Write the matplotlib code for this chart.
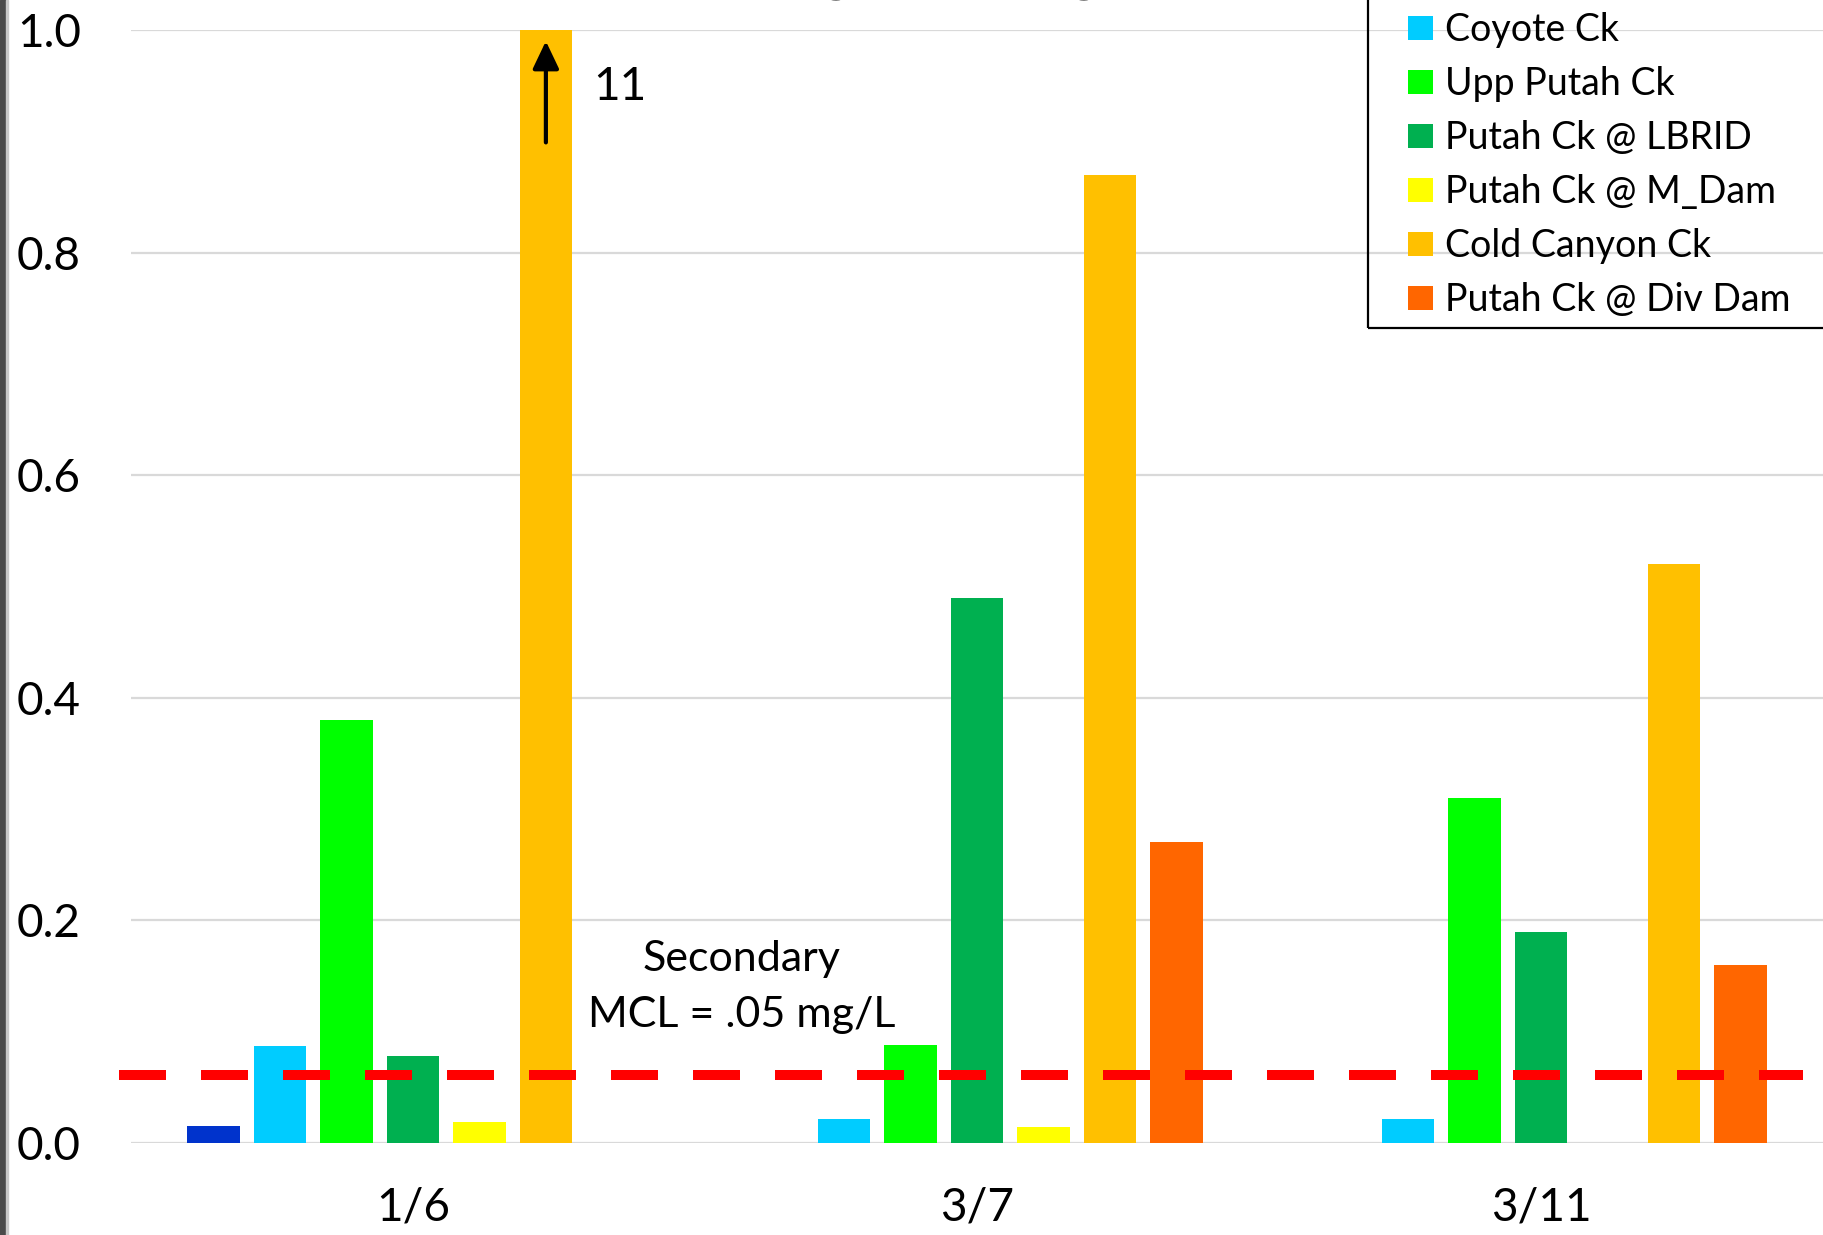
"""Manganese concentrations by site and sampling date (clustered bars)."""
import matplotlib
matplotlib.use('Agg')
import matplotlib.pyplot as plt
from matplotlib.patches import Rectangle
import numpy as np

plt.rcParams['font.family'] = ['Lato', 'DejaVu Sans']

dates = ['1/6', '3/7', '3/11']
sites = ['Big Canyon Ck', 'Coyote Ck', 'Upp Putah Ck', 'Putah Ck @ LBRID',
         'Putah Ck @ M_Dam', 'Cold Canyon Ck', 'Putah Ck @ Div Dam']
colors = ['#0033CC', '#00CCFF', '#00FF00', '#00B050', '#FFFF00', '#FFC000', '#FF6600']
nan = np.nan
big_canyon = [0.015, nan, nan]
coyote = [0.087, 0.022, 0.022]
upp_putah = [0.38, 0.088, 0.31]
lbrid = [0.078, 0.49, 0.19]
m_dam = [0.019, 0.014, nan]
cold_canyon = [11, 0.87, 0.52]
div_dam = [nan, 0.27, 0.16]
series = [big_canyon, coyote, upp_putah, lbrid, m_dam, cold_canyon, div_dam]
mcl = 0.061

W, H = 1824, 1235
fig = plt.figure(figsize=(W / 100, H / 100), dpi=100)
ax = fig.add_axes([131 / W, 92 / H, 1692 / W, 1113 / H])

x = np.arange(len(dates))
slot = 0.1178
bars = []
for i, (vals, name, c) in enumerate(zip(series, sites, colors)):
    bars.append(ax.bar(x + (i - 3) * slot, vals, width=0.093, color=c,
                       label=name, linewidth=0))

ax.set_xlim(-0.5, 2.5)
ax.set_ylim(0, 1.0)
ax.set_yticks(np.arange(0, 1.01, 0.2))
ax.yaxis.set_major_formatter(matplotlib.ticker.FormatStrFormatter('%.1f'))
ax.set_xticks(x)
ax.set_xticklabels(dates)
ax.tick_params(axis='y', length=0, pad=36, labelsize=33)
ax.tick_params(axis='x', length=0, pad=31, labelsize=33)
for s in ax.spines.values():
    s.set_visible(False)
ax.set_axisbelow(True)
ax.yaxis.grid(True, color='#d9d9d9', linewidth=1.6)

# secondary MCL reference line
ax.axhline(mcl, xmin=-0.007, xmax=0.988, color='#FF0000', lw=7.2,
           dashes=(4.7, 3.5), clip_on=False, zorder=5)
ax.text(0.582, 0.14, 'Secondary\nMCL = .05 mg/L', ha='center', va='center',
        fontsize=31, linespacing=1.58)

# off-scale bar marker
gold_x = x[0] + 2 * slot
ax.annotate('', xy=(gold_x, 0.99), xytext=(gold_x, 0.899),
            arrowprops=dict(arrowstyle='-|>,head_length=0.42,head_width=0.2',
                            color='black', lw=3, mutation_scale=40,
                            shrinkA=0, shrinkB=0))
ax.text(0.32, 0.949, '11', ha='left', va='center', fontsize=33)

# title, cut off at the top edge
fig.text(940 / W, (H + 8) / H, 'Manganese (mg/L)', ha='center', va='baseline',
         fontsize=40, fontweight='bold')

# legend: the top entry sits above the visible area, so only the rest are listed
leg = ax.legend(handles=bars[1:], loc='lower left',
                bbox_to_anchor=(1408 / W, (H - 318) / H),
                bbox_transform=fig.transFigure, frameon=False, fontsize=27,
                handlelength=0.68, handleheight=0.62, handletextpad=0.3,
                labelspacing=0.48, borderpad=0, borderaxespad=0)
fig.patches.append(Rectangle((1368 / W, (H - 328) / H), 0.5, 0.5, fill=False,
                             edgecolor='black', lw=1.6, transform=fig.transFigure))

# photo strip at the left edge
fig.patches.append(Rectangle((0, 0), 6 / W, 1, color='#4a4a4a',
                             transform=fig.transFigure))
fig.patches.append(Rectangle((6 / W, 0), 2 / W, 1, color='#c8c8c8',
                             transform=fig.transFigure))

fig.savefig('out.png', dpi=100)
print('Saved out.png')
